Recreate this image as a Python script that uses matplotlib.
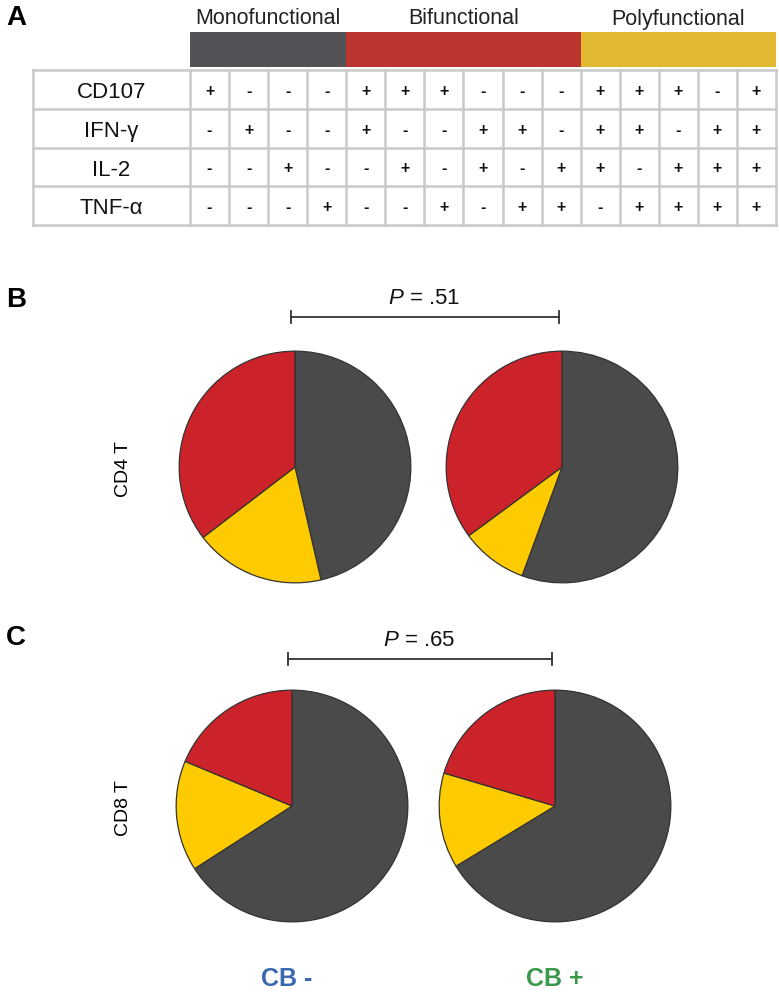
import matplotlib
matplotlib.use("Agg")
import matplotlib.pyplot as plt

plt.rcParams['font.family'] = ['Liberation Sans', 'DejaVu Sans']
plt.rcParams['mathtext.fontset'] = 'custom'
plt.rcParams['mathtext.rm'] = 'Liberation Sans'
plt.rcParams['mathtext.it'] = 'Liberation Sans:italic'

# --- data ---
groups = ['Monofunctional', 'Bifunctional', 'Polyfunctional']
group_ncols = [4, 6, 5]
group_colors = ['#545257', '#bb342f', '#e0b931']

markers = ['CD107', 'IFN-γ', 'IL-2', 'TNF-α']
cd107 = ['+', '-', '-', '-', '+', '+', '+', '-', '-', '-', '+', '+', '+', '-', '+']
ifng = ['-', '+', '-', '-', '+', '-', '-', '+', '+', '-', '+', '+', '-', '+', '+']
il2 = ['-', '-', '+', '-', '-', '+', '-', '+', '-', '+', '+', '-', '+', '+', '+']
tnfa = ['-', '-', '-', '+', '-', '-', '+', '-', '+', '+', '-', '+', '+', '+', '+']
signs = [cd107, ifng, il2, tnfa]

# pie fractions (%) in order: monofunctional, polyfunctional, bifunctional
pie_order_colors = ['#4a4a4a', '#fecb00', '#cc2229']
cd4_cb_neg = [46.4, 18.2, 35.4]
cd4_cb_pos = [55.6, 9.3, 35.1]
cd8_cb_neg = [65.9, 15.4, 18.7]
cd8_cb_pos = [66.3, 13.3, 20.4]
p_values = ['.51', '.65']
cell_types = ['CD4 T', 'CD8 T']
cb_labels = ['CB -', 'CB +']
cb_colors = ['#3a68b0', '#3a994a']

W, H = 779, 993
fig = plt.figure(figsize=(W / 100, H / 100), dpi=100)
ax = fig.add_axes([0, 0, 1, 1])
ax.set_xlim(0, W)
ax.set_ylim(H, 0)
ax.axis('off')

# --- panel A: table ---
tab_left, lab_right, tab_right = 33, 190, 776
row_top, row_h = 70, 38.8
col_w = (tab_right - lab_right) / 15
grid_c = '#c9c9c9'

x0 = lab_right
for g, n, c in zip(groups, group_ncols, group_colors):
    ax.add_patch(plt.Rectangle((x0, 32), n * col_w, 35, color=c, lw=0))
    ax.text(x0 + n * col_w / 2, 19, g, ha='center', va='center', fontsize=15.5, color='#222222')
    x0 += n * col_w

nrows = len(markers)
for i in range(nrows + 1):
    ax.plot([tab_left, tab_right], [row_top + i * row_h] * 2, color=grid_c, lw=1.8)
ax.plot([tab_left, tab_left], [row_top, row_top + nrows * row_h], color=grid_c, lw=1.8)
for j in range(16):
    x = lab_right + j * col_w
    ax.plot([x, x], [row_top, row_top + nrows * row_h], color=grid_c, lw=1.8)

for i, (m, row) in enumerate(zip(markers, signs)):
    yc = row_top + (i + 0.5) * row_h + 2
    ax.text((tab_left + lab_right) / 2, yc + 1, m, ha='center', va='center', fontsize=16, color='#111111')
    for j, s in enumerate(row):
        ax.text(lab_right + (j + 0.5) * col_w, yc, s, ha='center', va='center',
                fontsize=11.5, fontweight='bold', color='#111111')

# --- panel letters ---
for lbl, y in zip(['A', 'B', 'C'], [18, 300, 638]):
    ax.text(6, y, lbl, ha='left', va='center', fontsize=20, fontweight='bold')


def pie_at(cx, cy, r, vals):
    pa = fig.add_axes([(cx - r) / W, 1 - (cy + r) / H, 2 * r / W, 2 * r / H])
    pa.pie(vals, colors=pie_order_colors, startangle=90, counterclock=False,
           wedgeprops=dict(edgecolor='#333333', linewidth=0.9))
    pa.set_xlim(-1.01, 1.01)
    pa.set_ylim(-1.01, 1.01)
    pa.axis('off')


# --- panels B & C: pies ---
pie_sets = [(cd4_cb_neg, cd4_cb_pos), (cd8_cb_neg, cd8_cb_pos)]
centers_y = [467, 806]
centers_x = [(295, 562), (292, 555)]
bar_y = [317, 659]
for k in range(2):
    (xl, xr), cy = centers_x[k], centers_y[k]
    pie_at(xl, cy, 117, pie_sets[k][0])
    pie_at(xr, cy, 117, pie_sets[k][1])
    by = bar_y[k]
    ax.plot([xl - 4, xr - 3], [by, by], color='#333333', lw=1.3)
    for xe in (xl - 4, xr - 3):
        ax.plot([xe, xe], [by - 6, by + 6], color='#333333', lw=1.3)
    ax.text((xl + xr) / 2 - 4, by - 18, r'$\mathit{P}$ = ' + p_values[k], ha='center',
            va='center', fontsize=16, color='#111111')
    ax.text(124, cy + 2, cell_types[k], rotation=90, ha='center', va='center', fontsize=14)

for lbl, c, x in zip(cb_labels, cb_colors, [287, 555]):
    ax.text(x, 979, lbl, ha='center', va='center', fontsize=18, fontweight='bold', color=c)

fig.savefig('out.png', dpi=100)
